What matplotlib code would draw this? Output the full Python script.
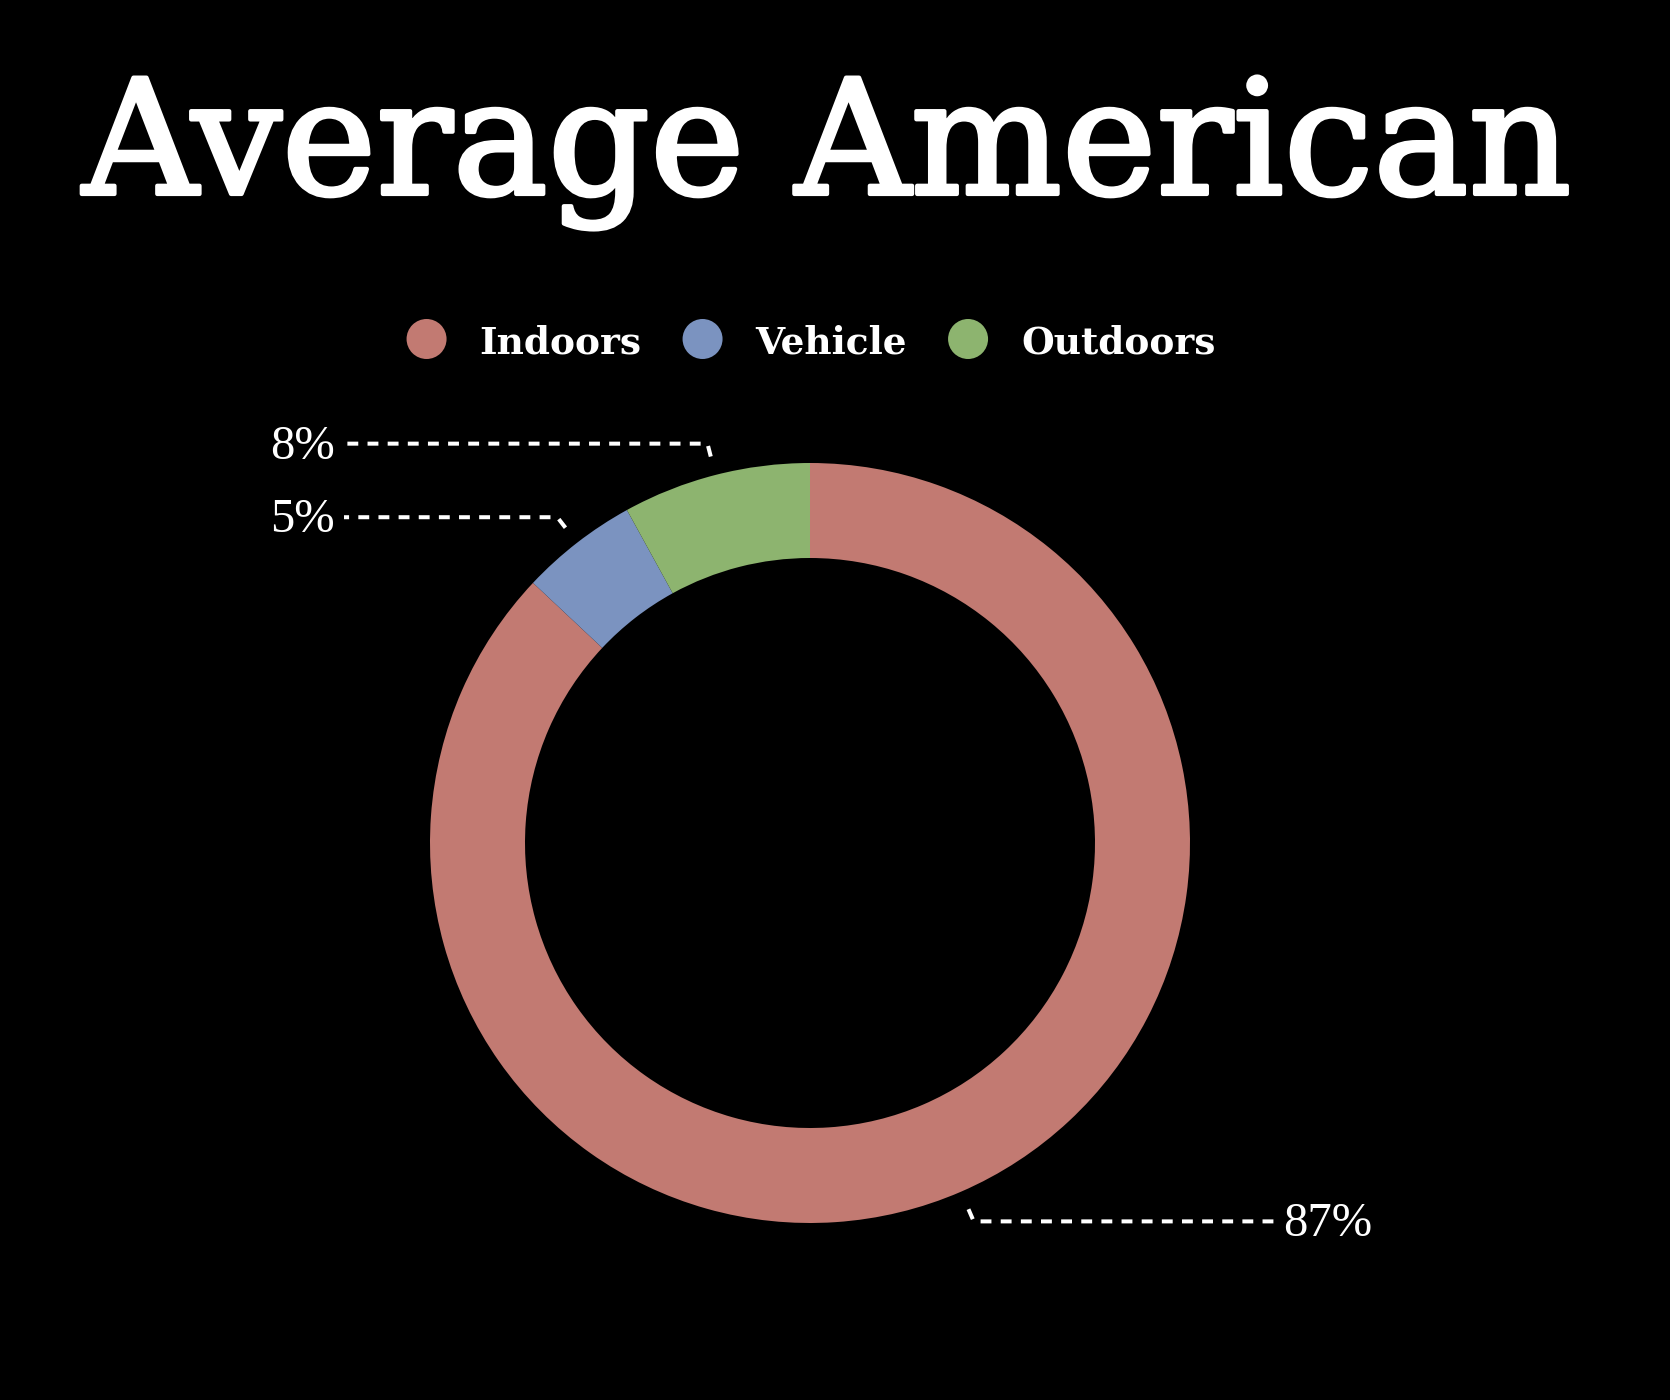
import numpy as np
import matplotlib
matplotlib.use("Agg")
import matplotlib.pyplot as plt
import matplotlib.patheffects as pe
from matplotlib.patches import Circle

# ---- data ----
title = "Average American"
categories = ["Indoors", "Vehicle", "Outdoors"]
values = [87, 5, 8]
labels = ["87%", "5%", "8%"]
colors = ["#c27a72", "#7b93c0", "#8db46f"]

W, H = 1670, 1400
fig = plt.figure(figsize=(W / 100, H / 100), dpi=100, facecolor="black")
ax = fig.add_axes([0, 0, 1, 1])
ax.set_facecolor("black")

cx, cy = 810, H - 843
R = 380
ring = 95

wedges, _ = ax.pie(values, colors=colors, startangle=90, counterclock=False,
                   center=(cx, cy), radius=R,
                   wedgeprops=dict(width=ring, linewidth=0))
ax.set_xlim(0, W)
ax.set_ylim(0, H)
ax.set_aspect("equal")
ax.axis("off")

fig.canvas.draw()
renderer = fig.canvas.get_renderer()

# ---- title (fit to reference width) ----
tt = fig.text(827 / W, (H - 194) / H, title, ha="center", va="baseline",
              color="white", fontsize=120, family="DejaVu Serif")
bw = tt.get_window_extent(renderer).width
tt.set_fontsize(120 * 1488 / bw)
tt.set_path_effects([pe.withStroke(linewidth=3, foreground="white")])

# ---- leader lines and labels ----
left_x, right_x = 344, 1275
for w, lab in zip(wedges, labels):
    mid = np.deg2rad((w.theta1 + w.theta2) / 2)
    c, s = np.cos(mid), np.sin(mid)
    x0, y0 = cx + 1.05 * R * c, cy + 1.05 * R * s
    x1, y1 = cx + 1.085 * R * c, cy + 1.085 * R * s
    if c < 0:
        xe, ha, tx = left_x, "right", left_x - 9
    else:
        xe, ha, tx = right_x, "left", right_x + 8
    ax.plot([x0, x1, xe], [y0, y1, y1], color="white", lw=2.9,
            dashes=(2.7, 2.3), solid_capstyle="butt", dash_capstyle="butt")
    ax.text(tx, y1 - 3, lab, ha=ha, va="center", color="white", fontsize=35,
            family="Liberation Serif")

# ---- legend (centered row) ----
leg_y = H - 339
d = 40
gap1, gap2 = 33, 41
texts = []
widths = []
for cat in categories:
    t = ax.text(0, H - 354, cat, ha="left", va="baseline", color="white",
                fontsize=27, family="DejaVu Serif", fontweight="bold")
    bb = t.get_window_extent(renderer)
    texts.append(t)
    widths.append(bb.width)
total = sum(d + gap1 + wd for wd in widths) + gap2 * (len(categories) - 1)
x = 811 - total / 2
for t, wd, col in zip(texts, widths, colors):
    ax.add_patch(Circle((x + d / 2, leg_y), d / 2, color=col, lw=0))
    t.set_x(x + d + gap1)
    x += d + gap1 + wd + gap2

fig.savefig("out.png", dpi=100, facecolor="black")
